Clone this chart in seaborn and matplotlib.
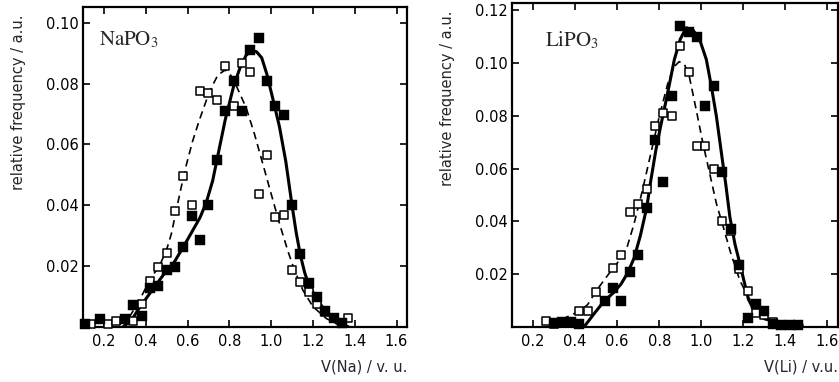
import matplotlib
matplotlib.use("Agg")
import matplotlib.pyplot as plt
import seaborn as sns

# ── Data ──────────────────────────────────────────────────────────────────────
# NaPO3 panel
na_filled_x = [0.11, 0.18, 0.30, 0.34, 0.38, 0.42, 0.46, 0.50, 0.54, 0.58, 0.62, 0.66, 0.70, 0.74, 0.78,
               0.82, 0.86, 0.90, 0.94, 0.98, 1.02, 1.06, 1.10, 1.14, 1.18, 1.22, 1.26, 1.30, 1.34]
na_filled_y = [0.001, 0.0025, 0.0025, 0.0072, 0.0036, 0.0127, 0.0134, 0.0189, 0.0198, 0.0263, 0.0364, 0.0285,
               0.040, 0.0548, 0.0709, 0.081, 0.0709, 0.091, 0.0949, 0.081, 0.0725, 0.0698, 0.040, 0.024,
               0.0146, 0.0098, 0.0053, 0.0028, 0.0012]
na_open_x = [0.14, 0.22, 0.26, 0.30, 0.34, 0.38, 0.42, 0.46, 0.50, 0.54, 0.58, 0.62, 0.66, 0.70, 0.74,
             0.78, 0.82, 0.86, 0.90, 0.94, 0.98, 1.02, 1.06, 1.10, 1.14, 1.18, 1.22, 1.26, 1.30, 1.37]
na_open_y = [0.001, 0.001, 0.0021, 0.0025, 0.002, 0.0075, 0.0152, 0.0198, 0.0242, 0.0381, 0.0498, 0.040,
             0.0777, 0.0768, 0.0746, 0.0859, 0.0728, 0.0867, 0.0837, 0.0438, 0.0567, 0.036, 0.0367,
             0.0189, 0.0149, 0.0116, 0.0075, 0.005, 0.003, 0.003]
na_solid_x = [0.29, 0.33, 0.363, 0.419, 0.483, 0.531, 0.579, 0.627, 0.66, 0.69, 0.72, 0.75, 0.78, 0.82,
              0.85, 0.88, 0.905, 0.93, 0.955, 0.98, 1.01, 1.04, 1.07, 1.10, 1.12, 1.14, 1.16, 1.18, 1.22,
              1.26, 1.30, 1.34, 1.37]
na_solid_y = [0.0, 0.002, 0.0056, 0.011, 0.017, 0.0207, 0.0262, 0.032, 0.036, 0.041, 0.048, 0.058, 0.068,
              0.079, 0.085, 0.0893, 0.0908, 0.0905, 0.0885, 0.083, 0.0745, 0.0658, 0.0545, 0.040, 0.031,
              0.0236, 0.018, 0.0138, 0.0092, 0.005, 0.0026, 0.001, 0.0]
na_dash_x = [0.275, 0.323, 0.371, 0.419, 0.467, 0.499, 0.523, 0.545, 0.57, 0.592, 0.624, 0.656, 0.69,
             0.715, 0.745, 0.78, 0.81, 0.832, 0.88, 0.92, 0.96, 1.0, 1.04, 1.08, 1.11, 1.152, 1.20,
             1.264, 1.328]
na_dash_y = [0.0008, 0.0034, 0.0089, 0.0154, 0.0203, 0.0252, 0.0307, 0.038, 0.046, 0.0527, 0.061, 0.0679,
             0.0745, 0.0788, 0.0828, 0.0845, 0.0825, 0.0795, 0.0722, 0.0635, 0.0537, 0.0438, 0.034, 0.025,
             0.019, 0.0121, 0.0067, 0.0028, 0.0005]

# LiPO3 panel
li_filled_x = [0.30, 0.34, 0.38, 0.42, 0.54, 0.58, 0.62, 0.66, 0.70, 0.74, 0.78, 0.82, 0.86, 0.90, 0.94,
               0.98, 1.02, 1.06, 1.10, 1.14, 1.18, 1.22, 1.26, 1.30, 1.34, 1.38, 1.42, 1.46]
li_filled_y = [0.0015, 0.0019, 0.002, 0.001, 0.0097, 0.0149, 0.0098, 0.021, 0.0274, 0.045, 0.071, 0.0549,
               0.0873, 0.114, 0.1118, 0.110, 0.0837, 0.0914, 0.0587, 0.037, 0.0235, 0.0035, 0.0088, 0.006,
               0.001, 0.0008, 0.0008, 0.0008]
li_open_x = [0.26, 0.30, 0.38, 0.42, 0.46, 0.50, 0.58, 0.62, 0.66, 0.70, 0.74, 0.78, 0.82, 0.86, 0.90,
             0.94, 0.98, 1.02, 1.06, 1.10, 1.14, 1.18, 1.22, 1.26, 1.30, 1.34]
li_open_y = [0.0023, 0.001, 0.002, 0.006, 0.006, 0.0134, 0.0223, 0.0272, 0.0435, 0.0464, 0.0524, 0.0761,
             0.0812, 0.080, 0.1063, 0.0964, 0.0686, 0.0686, 0.060, 0.040, 0.0362, 0.022, 0.0138, 0.0054,
             0.0047, 0.002]
li_solid_x = [0.442, 0.49, 0.538, 0.58, 0.618, 0.65, 0.68, 0.71, 0.741, 0.76, 0.784, 0.808, 0.84, 0.872,
              0.90, 0.928, 0.96, 0.992, 1.024, 1.048, 1.072, 1.096, 1.116, 1.136, 1.16, 1.184, 1.224,
              1.256, 1.304, 1.368, 1.48]
li_solid_y = [0.0, 0.005, 0.0098, 0.0128, 0.0162, 0.0205, 0.026, 0.0345, 0.0454, 0.0555, 0.067, 0.0765,
              0.0886, 0.1013, 0.109, 0.1133, 0.1125, 0.1089, 0.1013, 0.0911, 0.0797, 0.0657, 0.0543,
              0.0416, 0.0314, 0.0238, 0.0105, 0.0055, 0.003, 0.0018, 0.0008]
li_dash_x = [0.28, 0.34, 0.42, 0.46, 0.498, 0.54, 0.578, 0.618, 0.648, 0.68, 0.72, 0.76, 0.80, 0.84, 0.87,
             0.895, 0.92, 0.944, 0.976, 1.008, 1.04, 1.072, 1.104, 1.14, 1.184, 1.226, 1.272, 1.352, 1.40]
li_dash_y = [0.0016, 0.003, 0.006, 0.0085, 0.0134, 0.018, 0.022, 0.026, 0.0305, 0.039, 0.0517, 0.0657,
             0.0797, 0.092, 0.0985, 0.1005, 0.0995, 0.0945, 0.0822, 0.0695, 0.0581, 0.0467, 0.038, 0.028,
             0.0175, 0.011, 0.0065, 0.002, 0.0005]

# ── Axis ticks / labels ───────────────────────────────────────────────────────
x_ticks = [0.2, 0.4, 0.6, 0.8, 1.0, 1.2, 1.4, 1.6]
x_tick_labels = ["0.2", "0.4", "0.6", "0.8", "1.0", "1.2", "1.4", "1.6"]
na_y_ticks = [0.02, 0.04, 0.06, 0.08, 0.10]
na_y_tick_labels = ["0.02", "0.04", "0.06", "0.08", "0.10"]
li_y_ticks = [0.02, 0.04, 0.06, 0.08, 0.10, 0.12]
li_y_tick_labels = ["0.02", "0.04", "0.06", "0.08", "0.10", "0.12"]

sns.set_style("ticks")
plt.rcParams["font.family"] = ["DejaVu Sans"]
plt.rcParams["mathtext.fontset"] = "stix"

fig = plt.figure(figsize=(8.39, 3.82), dpi=100)
ax_na = fig.add_axes([83 / 839, 1 - 327 / 382, 324 / 839, 320 / 382])
ax_li = fig.add_axes([512 / 839, 1 - 327 / 382, 326 / 839, 324 / 382])


def draw_panel(ax, fx, fy, ox, oy, sx, sy, dx, dy, ylim, yticks, ylabels, xlabel, title, title_pos, ylab_pos):
    sns.lineplot(x=dx, y=dy, ax=ax, color="black", lw=1.2, linestyle=(0, (4.5, 3)),
                 estimator=None, sort=False, zorder=2)
    sns.lineplot(x=sx, y=sy, ax=ax, color="black", lw=2.2, estimator=None, sort=False, zorder=2)
    sns.scatterplot(x=ox, y=oy, ax=ax, marker="s", s=28, facecolor="white", edgecolor="black",
                    linewidth=1.1, clip_on=False, zorder=3)
    sns.scatterplot(x=fx, y=fy, ax=ax, marker="s", s=44, color="black", edgecolor="black",
                    linewidth=0.3, clip_on=False, zorder=4)

    ax.set_xlim(0.1, 1.65)
    ax.set_ylim(*ylim)
    ax.set_xticks(x_ticks)
    ax.set_xticklabels(x_tick_labels)
    ax.set_yticks(yticks)
    ax.set_yticklabels(ylabels)
    ax.tick_params(direction="in", top=True, right=True, length=5, width=1.2,
                   labelsize=10.5, pad=3, colors="black")
    ax.tick_params(axis="x", pad=5)
    for sp in ax.spines.values():
        sp.set_linewidth(1.6)
        sp.set_color("black")

    ax.set_xlabel(xlabel, fontsize=10.5, loc="right")
    ax.xaxis.set_label_coords(1.0, -0.1)
    ax.set_ylabel("relative frequency / a.u.", fontsize=10.5, loc="top")
    ax.yaxis.set_label_coords(*ylab_pos)

    ax.text(title_pos[0], title_pos[1], title, transform=ax.transAxes, fontsize=15,
            ha="left", va="baseline")


draw_panel(ax_na, na_filled_x, na_filled_y, na_open_x, na_open_y, na_solid_x, na_solid_y,
           na_dash_x, na_dash_y, (0, 0.1052), na_y_ticks, na_y_tick_labels,
           "V(Na) / v. u.", r"$\mathrm{NaPO}_3$", (0.05, 0.88), (-0.175, 0.975))
draw_panel(ax_li, li_filled_x, li_filled_y, li_open_x, li_open_y, li_solid_x, li_solid_y,
           li_dash_x, li_dash_y, (0, 0.1227), li_y_ticks, li_y_tick_labels,
           "V(Li) / v.u.", r"$\mathrm{LiPO}_3$", (0.10, 0.865), (-0.175, 0.978))

plt.savefig("out.png", dpi=100)
plt.close()
